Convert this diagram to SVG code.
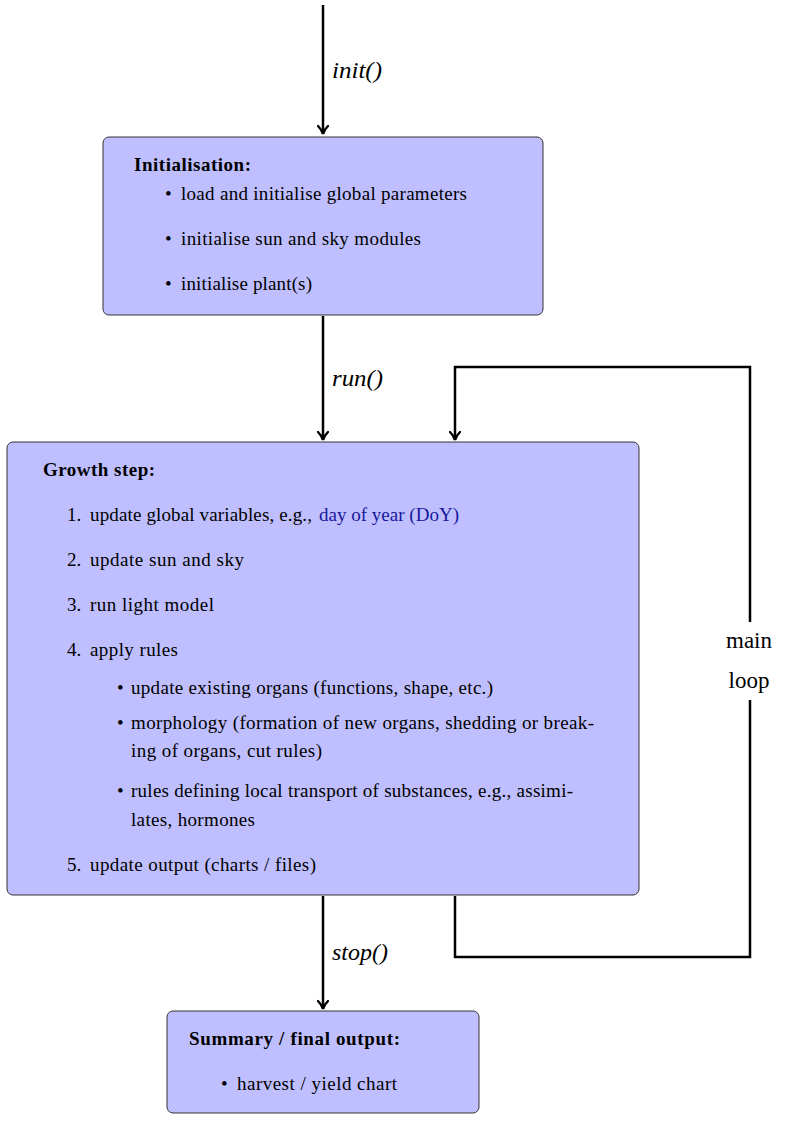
<svg xmlns="http://www.w3.org/2000/svg" width="789" height="1125" viewBox="0 0 789 1125">
<style>
.box{fill:#bfbfff;stroke:#333;stroke-width:1}
.t{font-family:"Liberation Serif","DejaVu Serif",serif;font-size:19px;fill:#000}
.b{font-weight:bold}
.lbl{font-family:"Liberation Serif","DejaVu Serif",serif;font-size:23px;font-style:italic;fill:#000}
.ml{font-family:"Liberation Serif","DejaVu Serif",serif;font-size:23px;fill:#000;text-anchor:middle}
.link{fill:none;stroke:#000;stroke-width:2.5}
.blue{fill:#18189c}
</style>
<defs>
<marker id="arr" markerWidth="14" markerHeight="12" refX="10" refY="6" orient="auto" markerUnits="userSpaceOnUse">
<path d="M2,1 Q6,5 10,6 Q6,7 2,11" fill="none" stroke="#000" stroke-width="2.4" stroke-linecap="round"/>
</marker>
</defs>
<g id="connectors">
<line class="link" x1="323" y1="5" x2="323" y2="134" marker-end="url(#arr)"/>
<line class="link" x1="323" y1="316" x2="323" y2="440" marker-end="url(#arr)"/>
<line class="link" x1="323" y1="896" x2="323" y2="1009" marker-end="url(#arr)"/>
<path class="link" d="M455,896 V957 H750 V700"/>
<path class="link" d="M750,622 V367 H455 V440" marker-end="url(#arr)"/>
<text class="lbl" x="332" y="78" textLength="50" lengthAdjust="spacingAndGlyphs">init()</text>
<text class="lbl" x="332" y="386" textLength="51" lengthAdjust="spacingAndGlyphs">run()</text>
<text class="lbl" x="332" y="960" textLength="56" lengthAdjust="spacingAndGlyphs">stop()</text>
<text class="ml" x="749" y="648">main</text>
<text class="ml" x="749" y="688">loop</text>
</g>
<g id="init">
<rect class="box" x="103" y="137" width="440" height="178" rx="6"/>
<text class="t b" x="134" y="171" textLength="117">Initialisation:</text>
<text class="t" x="165" y="200">•</text><text class="t" x="181" y="200" textLength="286">load and initialise global parameters</text>
<text class="t" x="165" y="245">•</text><text class="t" x="181" y="245" textLength="240">initialise sun and sky modules</text>
<text class="t" x="165" y="290">•</text><text class="t" x="181" y="290" textLength="131">initialise plant(s)</text>
</g>
<g id="growth">
<rect class="box" x="7" y="442" width="632" height="453" rx="6"/>
<text class="t b" x="43" y="476" textLength="112">Growth step:</text>
<text class="t" x="67" y="521">1.</text><text class="t" x="90" y="521" textLength="222">update global variables, e.g.,</text><text class="t blue" x="319" y="521" textLength="140">day of year (DoY)</text>
<text class="t" x="67" y="566">2.</text><text class="t" x="90" y="566" textLength="154">update sun and sky</text>
<text class="t" x="67" y="611">3.</text><text class="t" x="90" y="611" textLength="124">run light model</text>
<text class="t" x="67" y="656">4.</text><text class="t" x="90" y="656" textLength="88">apply rules</text>
<text class="t" x="117" y="694">•</text><text class="t" x="131" y="694" textLength="362">update existing organs (functions, shape, etc.)</text>
<text class="t" x="117" y="729">•</text><text class="t" x="131" y="729" textLength="463">morphology (formation of new organs, shedding or break-</text>
<text class="t" x="131" y="757" textLength="191">ing of organs, cut rules)</text>
<text class="t" x="117" y="797">•</text><text class="t" x="131" y="797" textLength="442">rules defining local transport of substances, e.g., assimi-</text>
<text class="t" x="131" y="826" textLength="124">lates, hormones</text>
<text class="t" x="67" y="871">5.</text><text class="t" x="90" y="871" textLength="226">update output (charts / files)</text>
</g>
<g id="summary">
<rect class="box" x="167" y="1011" width="312" height="102" rx="6"/>
<text class="t b" x="189" y="1045" textLength="211">Summary / final output:</text>
<text class="t" x="221" y="1090">•</text><text class="t" x="237" y="1090" textLength="160">harvest / yield chart</text>
</g>
</svg>
